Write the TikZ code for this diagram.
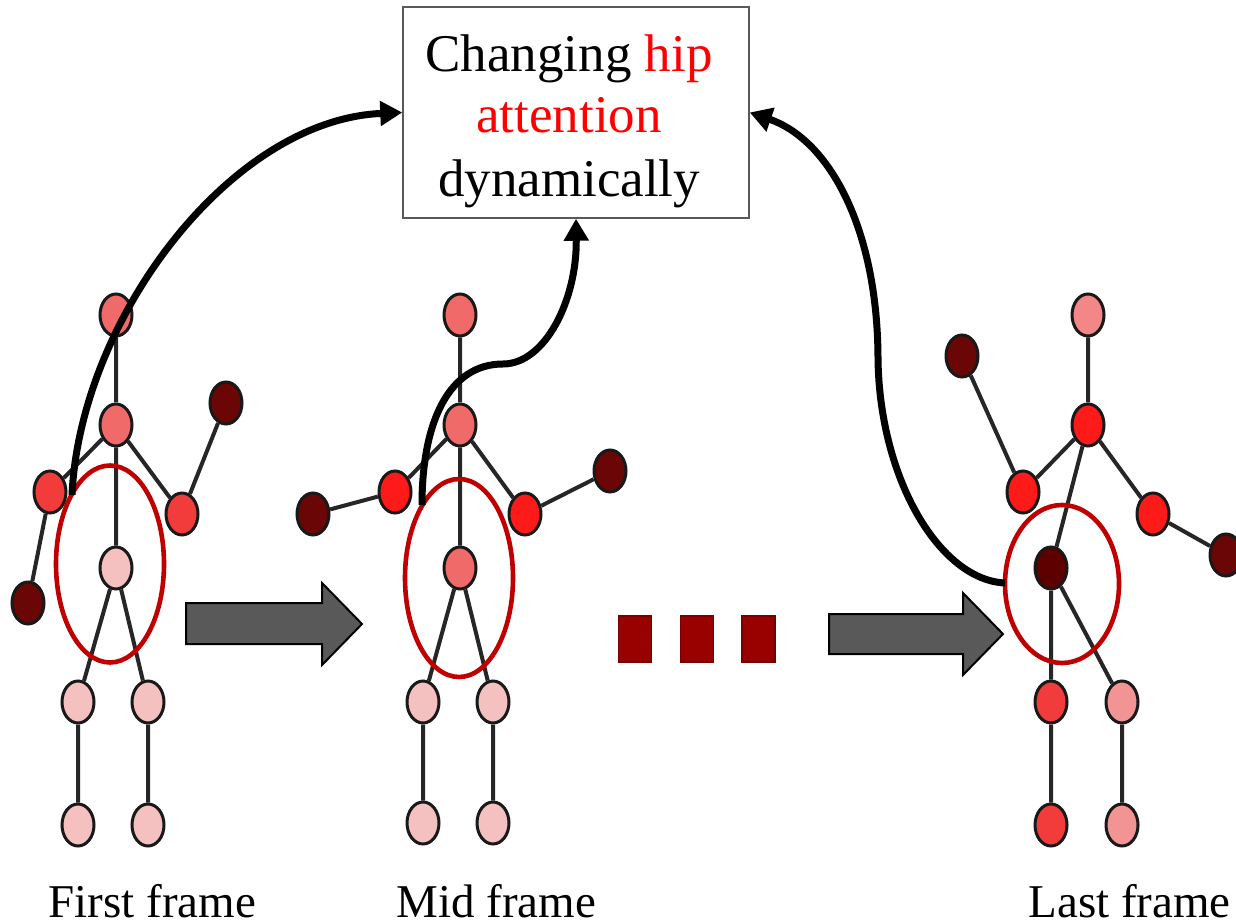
\documentclass[tikz,border=0pt]{standalone}
\usepackage{fontspec}
\setmainfont{Liberation Serif}
\usetikzlibrary{shapes.geometric,arrows.meta}

\definecolor{salmon}{HTML}{F06A6A}
\definecolor{lightsalmon}{HTML}{F38686}
\definecolor{brightred}{HTML}{FF1A1A}
\definecolor{midred}{HTML}{F23C3C}
\definecolor{darkjoint}{HTML}{6A0606}
\definecolor{hipdark}{HTML}{5E0000}
\definecolor{palepink}{HTML}{F5C0C0}
\definecolor{rosepink}{HTML}{F29494}
\definecolor{ringred}{HTML}{C00000}
\definecolor{blockgray}{HTML}{595959}
\definecolor{dotred}{HTML}{990000}

\newcommand\hipboxfont{\fontsize{26.5pt}{31pt}\selectfont}
\newcommand\framelabelfont{\fontsize{23.5pt}{28pt}\selectfont}

\begin{document}
\begin{tikzpicture}[x=0.5pt,y=-0.5pt,
  joint/.style={ellipse, draw=black!90, line width=1.5pt,
    minimum width=16pt, minimum height=21pt, inner sep=0pt},
  bone/.style={draw=black!85, line width=2pt},
  hipring/.style={ellipse, draw=ringred, line width=2.3pt, inner sep=0pt},
  flow/.style={line width=3.5pt, -{Triangle[length=11pt,width=12pt]}},
  blockarrow/.style={fill=blockgray, draw=black, line width=1pt, line join=miter},
  dotbox/.style={rectangle, fill=dotred, draw=dotred!80!black, line width=0.6pt,
    minimum width=16.5pt, minimum height=23pt, inner sep=0pt},
  framelabel/.style={anchor=base west, inner sep=0pt, font=\framelabelfont},
  boxline/.style={anchor=base, inner sep=0pt, font=\hipboxfont}
]
\useasboundingbox (0,0) rectangle (1236,924);

% ---------- first skeleton ----------
\node[joint, fill=salmon]   (ahead) at (116,315) {};
\node[joint, fill=salmon]   (aneck) at (116,425) {};
\node[joint, fill=midred]   (alelb) at (50,492) {};
\node[joint, fill=darkjoint](alhnd) at (28,603) {};
\node[joint, fill=midred]   (arelb) at (182,514) {};
\node[joint, fill=darkjoint](arhnd) at (226,403) {};
\node[joint, fill=palepink] (ahip)  at (116,568) {};
\node[joint, fill=palepink] (alkne) at (78,702) {};
\node[joint, fill=palepink] (arkne) at (148,702) {};
\node[joint, fill=palepink] (alft)  at (78,825) {};
\node[joint, fill=palepink] (arft)  at (148,825) {};
\draw[bone] (ahead)--(aneck) (aneck)--(alelb) (alelb)--(alhnd)
  (aneck)--(arelb) (arelb)--(arhnd) (aneck)--(ahip)
  (ahip)--(alkne) (ahip)--(arkne) (alkne)--(alft) (arkne)--(arft);

% ---------- middle skeleton ----------
\node[joint, fill=salmon]    (bhead) at (460,315) {};
\node[joint, fill=salmon]    (bneck) at (460,425) {};
\node[joint, fill=brightred] (blelb) at (395,492) {};
\node[joint, fill=darkjoint] (blhnd) at (313,514) {};
\node[joint, fill=brightred] (brelb) at (525,514) {};
\node[joint, fill=darkjoint] (brhnd) at (610,471) {};
\node[joint, fill=salmon]    (bhip)  at (460,568) {};
\node[joint, fill=palepink]  (blkne) at (423,702) {};
\node[joint, fill=palepink]  (brkne) at (493,702) {};
\node[joint, fill=palepink]  (blft)  at (423,823) {};
\node[joint, fill=palepink]  (brft)  at (493,823) {};
\draw[bone] (bhead)--(bneck) (bneck)--(blelb) (blelb)--(blhnd)
  (bneck)--(brelb) (brelb)--(brhnd) (bneck)--(bhip)
  (bhip)--(blkne) (bhip)--(brkne) (blkne)--(blft) (brkne)--(brft);

% ---------- last skeleton ----------
\node[joint, fill=lightsalmon] (chead) at (1088,315) {};
\node[joint, fill=brightred]   (cneck) at (1088,425) {};
\node[joint, fill=brightred]   (clelb) at (1023,492) {};
\node[joint, fill=darkjoint]   (clhnd) at (962,356) {};
\node[joint, fill=brightred]   (crelb) at (1153,514) {};
\node[joint, fill=darkjoint]   (crhnd) at (1226,555) {};
\node[joint, fill=hipdark]     (chip)  at (1051,568) {};
\node[joint, fill=midred]      (clkne) at (1051,702) {};
\node[joint, fill=rosepink]    (crkne) at (1122,702) {};
\node[joint, fill=midred]      (clft)  at (1051,825) {};
\node[joint, fill=rosepink]    (crft)  at (1122,825) {};
\draw[bone] (chead)--(cneck) (cneck)--(clelb) (clelb)--(clhnd)
  (cneck)--(crelb) (crelb)--(crhnd) (cneck)--(chip)
  (chip)--(clkne) (chip)--(crkne) (clkne)--(clft) (crkne)--(crft);

% ---------- hip highlight rings ----------
\node[hipring, minimum width=54pt, minimum height=98.5pt] (ringa) at (110,564) {};
\node[hipring, minimum width=54pt, minimum height=99pt]   (ringb) at (459,578) {};
\node[hipring, minimum width=57pt, minimum height=79pt]   (ringc) at (1062,584) {};

% ---------- frame-to-frame block arrows ----------
\draw[blockarrow] (186,603) -- (322,603) -- (322,583) -- (362,624)
  -- (322,665) -- (322,644) -- (186,644) -- cycle;
\draw[blockarrow] (829,614) -- (963,614) -- (963,593) -- (1003,634)
  -- (963,675) -- (963,654) -- (829,654) -- cycle;

% ---------- ellipsis squares ----------
\node[dotbox] (dot1) at (635,639) {};
\node[dotbox] (dot2) at (697,639) {};
\node[dotbox] (dot3) at (758.5,639) {};

% ---------- caption box ----------
\node[draw=black!65, line width=0.75pt, minimum width=173pt, minimum height=105.5pt,
  inner sep=0pt] (box) at (576,112.5) {};
\node[boxline] (line1) at (569,72)  {Changing \textcolor{red}{hip}};
\node[boxline, text=red] (line2) at (569,133) {attention};
\node[boxline] (line3) at (569,197) {dynamically};

% ---------- attention arrows ----------
\coordinate (sa) at (72,495);
\coordinate (sb) at (422,505);
\coordinate (sbmid) at (503,364);
\coordinate (sc) at (1005,583);
\coordinate (scmid) at (878,360);
\draw[flow] (sa) .. controls (80,320) and (230,120) .. (box.west);
\draw[flow] (sb) .. controls (422,420) and (450,364) .. (sbmid)
  .. controls (545,364) and (577,300) .. (box.south);
\draw[flow] (sc) .. controls (940,580) and (880,480) .. (scmid)
  .. controls (878,230) and (830,140) .. (box.east);

% ---------- frame labels ----------
\node[framelabel] (laba) at (48,917)   {First frame};
\node[framelabel] (labb) at (396,917)  {Mid frame};
\node[framelabel] (labc) at (1028,917) {Last frame};
\end{tikzpicture}
\end{document}
